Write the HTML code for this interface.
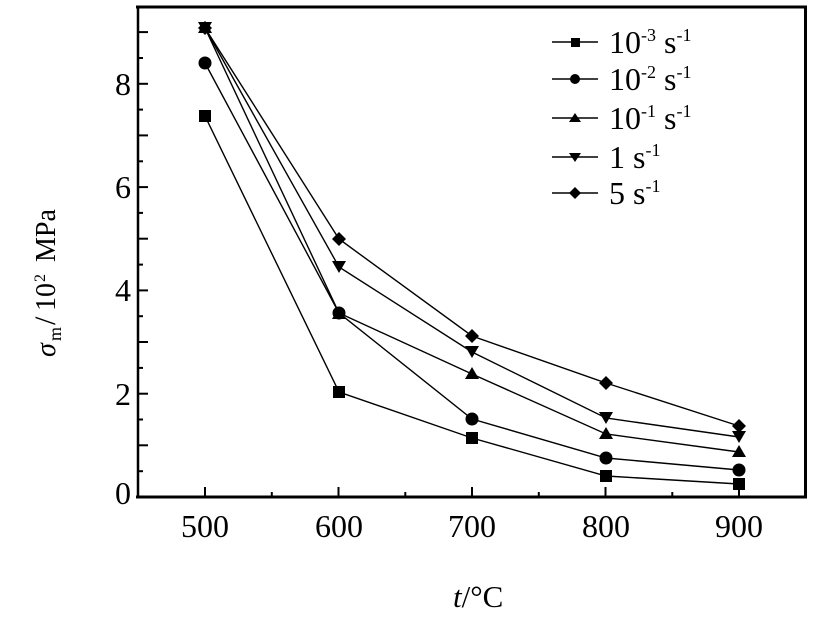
<!DOCTYPE html>
<html><head><meta charset="utf-8"><style>
html,body{margin:0;padding:0;background:#fff;}
svg{display:block;}
text{font-family:"Liberation Serif","DejaVu Serif",serif;fill:#000;}
</style></head><body>
<svg width="823" height="619" viewBox="0 0 823 619" xmlns="http://www.w3.org/2000/svg">
<rect width="823" height="619" fill="#fff"/>
<!-- frame -->
<g stroke="#000" fill="none">
<line x1="136" y1="7" x2="807" y2="7" stroke-width="3"/>
<line x1="805.5" y1="6" x2="805.5" y2="498" stroke-width="3"/>
<line x1="136" y1="497" x2="807" y2="497" stroke-width="3"/>
<line x1="138" y1="6" x2="138" y2="498" stroke-width="2.5"/>
</g>
<!-- y ticks -->
<g stroke="#000" stroke-width="2">
<line x1="138" y1="445.3" x2="148" y2="445.3"/>
<line x1="138" y1="393.7" x2="148" y2="393.7"/>
<line x1="138" y1="342" x2="148" y2="342"/>
<line x1="138" y1="290.4" x2="148" y2="290.4"/>
<line x1="138" y1="238.7" x2="148" y2="238.7"/>
<line x1="138" y1="187.1" x2="148" y2="187.1"/>
<line x1="138" y1="135.4" x2="148" y2="135.4"/>
<line x1="138" y1="83.8" x2="148" y2="83.8"/>
<line x1="138" y1="32.1" x2="148" y2="32.1"/>
<line x1="138" y1="471.2" x2="143" y2="471.2"/>
<line x1="138" y1="419.5" x2="143" y2="419.5"/>
<line x1="138" y1="367.9" x2="143" y2="367.9"/>
<line x1="138" y1="316.2" x2="143" y2="316.2"/>
<line x1="138" y1="264.6" x2="143" y2="264.6"/>
<line x1="138" y1="212.9" x2="143" y2="212.9"/>
<line x1="138" y1="161.3" x2="143" y2="161.3"/>
<line x1="138" y1="109.6" x2="143" y2="109.6"/>
<line x1="138" y1="58" x2="143" y2="58"/>
</g>
<!-- x ticks -->
<g stroke="#000" stroke-width="2">
<line x1="205" y1="497" x2="205" y2="487"/>
<line x1="338.5" y1="497" x2="338.5" y2="487"/>
<line x1="472" y1="497" x2="472" y2="487"/>
<line x1="605.5" y1="497" x2="605.5" y2="487"/>
<line x1="739" y1="497" x2="739" y2="487"/>
<line x1="271.8" y1="497" x2="271.8" y2="492"/>
<line x1="405.3" y1="497" x2="405.3" y2="492"/>
<line x1="538.8" y1="497" x2="538.8" y2="492"/>
<line x1="672.3" y1="497" x2="672.3" y2="492"/>
</g>
<!-- tick labels -->
<g font-size="32" text-anchor="end">
<text x="131" y="504">0</text>
<text x="131" y="405">2</text>
<text x="131" y="301">4</text>
<text x="131" y="198">6</text>
<text x="131" y="95">8</text>
</g>
<g font-size="32" text-anchor="middle">
<text x="205" y="537">500</text>
<text x="339" y="537">600</text>
<text x="472" y="537">700</text>
<text x="606" y="537">800</text>
<text x="739" y="537">900</text>
</g>
<!-- axis titles -->
<text x="453" y="607" font-size="31"><tspan font-style="italic">t</tspan>/°C</text>
<g transform="translate(55,357) rotate(-90)">
<text x="0" y="0" font-size="28"><tspan font-style="italic">σ</tspan><tspan x="16" dy="6" font-size="18">m</tspan><tspan x="32" dy="-6" font-size="30">/</tspan><tspan x="46">10</tspan><tspan x="75" dy="-10" font-size="16">2</tspan><tspan x="95" dy="10">MPa</tspan></text>
</g>
<!-- series lines -->
<g fill="none" stroke="#000" stroke-width="1.4">
<polyline points="205,116 339,392 472,438 606,476 739,484"/>
<polyline points="205,63 339,313 472,419 606,458 739,470"/>
<polyline points="205,28 339,313 472,374 606,434 739,452"/>
<polyline points="205,28 339,267 472,352 606,418 739,437"/>
<polyline points="205,28 339,239 472,336 606,383 739,426"/>
</g>
<!-- markers -->
<g fill="#000">
<rect x="199" y="110" width="12" height="12"/>
<rect x="333" y="386" width="12" height="12"/>
<rect x="466" y="432" width="12" height="12"/>
<rect x="600" y="470" width="12" height="12"/>
<rect x="733" y="478" width="12" height="12"/>
<circle cx="205" cy="63" r="6.5"/>
<circle cx="339" cy="313" r="6.5"/>
<circle cx="472" cy="419" r="6.5"/>
<circle cx="606" cy="458" r="6.5"/>
<circle cx="739" cy="470" r="6.5"/>
<polygon points="205,21 212,33 198,33"/>
<polygon points="339,307 346,319 332,319"/>
<polygon points="472,367 479,379 465,379"/>
<polygon points="606,427 613,439 599,439"/>
<polygon points="739,445 746,457 732,457"/>
<polygon points="198,22 212,22 205,34"/>
<polygon points="332,261 346,261 339,273"/>
<polygon points="465,346 479,346 472,358"/>
<polygon points="599,412 613,412 606,424"/>
<polygon points="732,431 746,431 739,443"/>
<polygon points="205,21 212,28 205,35 198,28"/>
<polygon points="339,232 346,239 339,246 332,239"/>
<polygon points="472,329 479,336 472,343 465,336"/>
<polygon points="606,376 613,383 606,390 599,383"/>
<polygon points="739,419 746,426 739,433 732,426"/>
</g>
<!-- legend -->
<g stroke="#000" stroke-width="1.6">
<line x1="552" y1="42" x2="598" y2="42"/>
<line x1="552" y1="79" x2="598" y2="79"/>
<line x1="552" y1="118" x2="598" y2="118"/>
<line x1="552" y1="157" x2="598" y2="157"/>
<line x1="552" y1="193" x2="598" y2="193"/>
</g>
<g fill="#000">
<rect x="571" y="38" width="9" height="9"/>
<circle cx="575" cy="79" r="5"/>
<polygon points="575,113 581,122 569,122"/>
<polygon points="569,153 581,153 575,162"/>
<polygon points="575,187 581,193 575,199 569,193"/>
</g>
<g font-size="32">
<text x="609" y="53">10<tspan font-size="18" dy="-12">-3</tspan><tspan dy="12"> s</tspan><tspan font-size="18" dy="-12">-1</tspan></text>
<text x="609" y="90">10<tspan font-size="18" dy="-12">-2</tspan><tspan dy="12"> s</tspan><tspan font-size="18" dy="-12">-1</tspan></text>
<text x="609" y="129">10<tspan font-size="18" dy="-12">-1</tspan><tspan dy="12"> s</tspan><tspan font-size="18" dy="-12">-1</tspan></text>
<text x="609" y="168">1<tspan dy="0"> s</tspan><tspan font-size="18" dy="-12">-1</tspan></text>
<text x="609" y="204">5<tspan dy="0"> s</tspan><tspan font-size="18" dy="-12">-1</tspan></text>
</g>
</svg>
</body></html>
